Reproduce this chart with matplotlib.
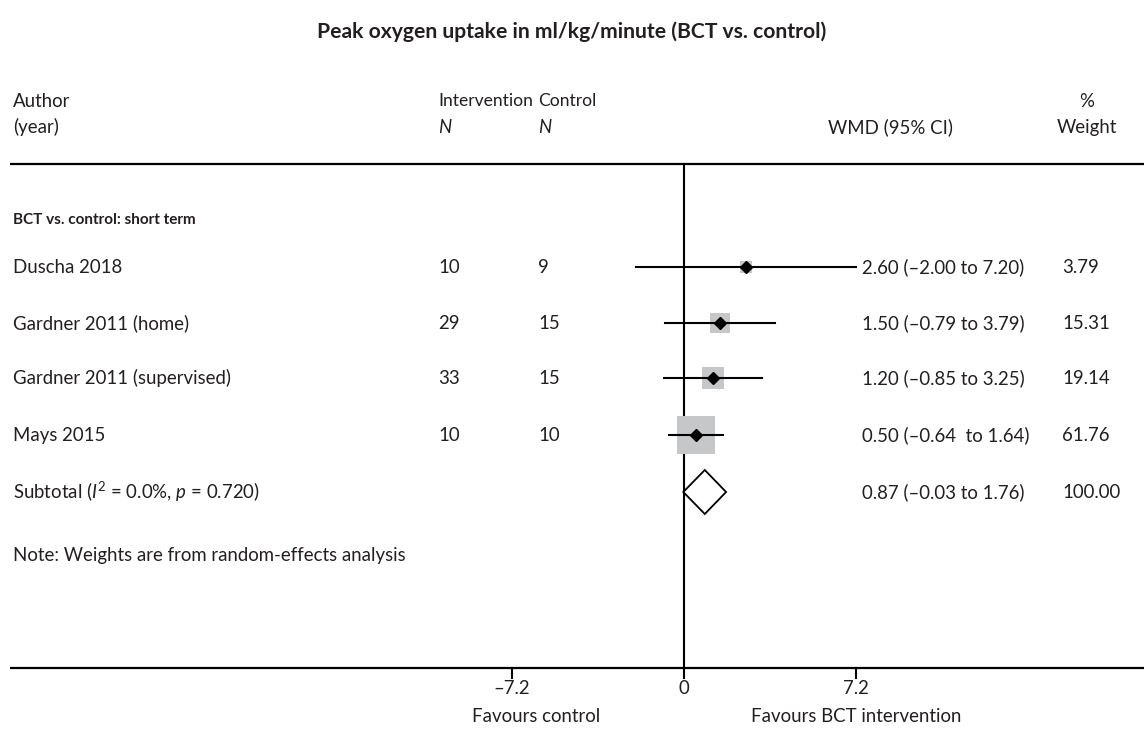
import matplotlib
matplotlib.use('Agg')
import matplotlib.pyplot as plt
import matplotlib.transforms as mtransforms
import numpy as np

plt.rcParams['font.family'] = ['Lato', 'DejaVu Sans']
plt.rcParams['mathtext.fontset'] = 'custom'
plt.rcParams['mathtext.rm'] = 'Lato'
plt.rcParams['mathtext.it'] = 'Lato:italic'

studies = ['Duscha 2018', 'Gardner 2011 (home)', 'Gardner 2011 (supervised)', 'Mays 2015']
n_intervention = [10, 29, 33, 10]
n_control = [9, 15, 15, 10]
wmd = [2.60, 1.50, 1.20, 0.50]
ci_low = [-2.00, -0.79, -0.85, -0.64]
ci_high = [7.20, 3.79, 3.25, 1.64]
weights = [3.79, 15.31, 19.14, 61.76]
ci_text = ['2.60 (\u20132.00 to 7.20)', '1.50 (\u20130.79 to 3.79)',
           '1.20 (\u20130.85 to 3.25)', '0.50 (\u20130.64  to 1.64)']

subtotal = 0.87
subtotal_low = -0.03
subtotal_high = 1.76
subtotal_text = '0.87 (\u20130.03 to 1.76)'

ticks = [-7.2, 0, 7.2]
tick_labels = ['\u20137.2', '0', '7.2']

W, H = 1144, 729
px_per_unit = 23.9
zero_px = 684
ink = '#231f20'

fig = plt.figure(figsize=(W / 100, H / 100), dpi=100)
ax = fig.add_axes([0, 0, 1, 1])
ax.set_xlim(-zero_px / px_per_unit, (W - zero_px) / px_per_unit)
ax.set_ylim(H, 0)
ax.axis('off')

# x in figure fraction, y in pixel rows
tr = mtransforms.blended_transform_factory(ax.transAxes, ax.transData)


def col(px):
    return px / W


fs = 13.4
x_int, x_ctl = 438, 538
ax.text(col(W / 2), 32, 'Peak oxygen uptake in ml/kg/minute (BCT vs. control)',
        transform=tr, ha='center', va='center', fontsize=15.2, fontweight='bold', color=ink)

# column headers
hdr1, hdr2 = 101, 127
ax.text(col(13), hdr1, 'Author', transform=tr, va='center', fontsize=fs, color=ink)
ax.text(col(13), hdr2, '(year)', transform=tr, va='center', fontsize=fs, color=ink)
ax.text(col(x_int), hdr1, 'Intervention', transform=tr, va='center', fontsize=12.6, color=ink)
ax.text(col(x_int), hdr2, 'N', transform=tr, va='center', fontsize=fs, color=ink, fontstyle='italic')
ax.text(col(x_ctl), hdr1, 'Control', transform=tr, va='center', fontsize=12.6, color=ink)
ax.text(col(x_ctl), hdr2, 'N', transform=tr, va='center', fontsize=fs, color=ink, fontstyle='italic')
ax.text(col(890), hdr2, 'WMD (95% CI)', transform=tr, ha='center', va='center', fontsize=fs, color=ink)
ax.text(col(1087), hdr1, '%', transform=tr, ha='center', va='center', fontsize=fs, color=ink)
ax.text(col(1087), hdr2, 'Weight', transform=tr, ha='center', va='center', fontsize=fs, color=ink)

# frame lines
top_y, bottom_y = 164, 668
x_left = ax.get_xlim()[0] + 10 / px_per_unit
ax.plot([x_left, ax.get_xlim()[1]], [top_y, top_y], color='black', lw=1.6, solid_capstyle='butt')
ax.plot([x_left, ax.get_xlim()[1]], [bottom_y, bottom_y], color='black', lw=1.6, solid_capstyle='butt')
ax.plot([0, 0], [top_y, bottom_y], color='black', lw=1.5)

ax.text(col(13), 220, 'BCT vs. control: short term', transform=tr, va='center',
        fontsize=11, fontweight='bold', color=ink)

row_y = [267, 323, 378, 435]
for i, y in enumerate(row_y):
    ax.text(col(13), y, studies[i], transform=tr, va='center', fontsize=fs, color=ink)
    ax.text(col(x_int), y, str(n_intervention[i]), transform=tr, va='center', fontsize=fs, color=ink)
    ax.text(col(x_ctl), y, str(n_control[i]), transform=tr, va='center', fontsize=fs, color=ink)
    ax.text(col(862), y, ci_text[i], transform=tr, va='center', fontsize=fs, color=ink)
    ax.text(col(1062), y, f'{weights[i]:.2f}', transform=tr, va='center', fontsize=fs, color=ink)
    side_px = 4.4 * np.sqrt(weights[i]) + 2.5
    ax.plot(wmd[i], y, marker='s', markersize=side_px * 0.72, color='#c6c7c9',
            markeredgewidth=0, zorder=2)
    ax.plot([ci_low[i], ci_high[i]], [y, y], color='black', lw=1.5, zorder=3)
    ax.plot(wmd[i], y, marker='D', markersize=6.5, color='black', zorder=4)

# pooled estimate
sub_y = 492
half_h = 22
ax.fill([subtotal_low, subtotal, subtotal_high, subtotal],
        [sub_y, sub_y - half_h, sub_y, sub_y + half_h],
        facecolor='white', edgecolor='black', lw=1.3, zorder=5)
ax.text(col(13), sub_y, 'Subtotal ($I^2$ = 0.0%, $p$ = 0.720)', transform=tr,
        va='center', fontsize=fs, color=ink)
ax.text(col(862), sub_y, subtotal_text, transform=tr, va='center', fontsize=fs, color=ink)
ax.text(col(1062), sub_y, '100.00', transform=tr, va='center', fontsize=fs, color=ink)

ax.text(col(13), 556, 'Note: Weights are from random-effects analysis', transform=tr,
        va='center', fontsize=fs, color=ink)

# scale ticks under the bottom line
for t, lab in zip(ticks, tick_labels):
    ax.plot([t, t], [bottom_y, bottom_y + 10], color='black', lw=1.5)
    ax.text(t, 689, lab, ha='center', va='center', fontsize=fs, color=ink)

ax.text(-6.2, 717, 'Favours control', ha='center', va='center', fontsize=fs, color=ink)
ax.text(7.2, 717, 'Favours BCT intervention', ha='center', va='center', fontsize=fs, color=ink)

fig.savefig('out.png', dpi=100, facecolor='white')
